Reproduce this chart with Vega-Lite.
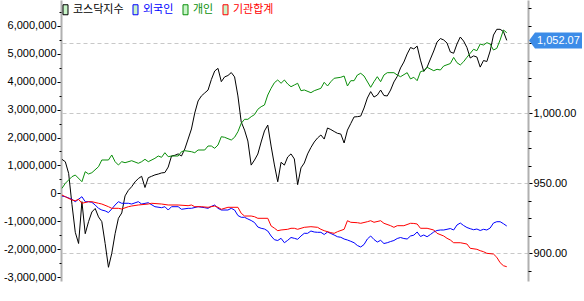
{
"$schema": "https://vega.github.io/schema/vega-lite/v6.json",
"width": 467, "height": 281,
"autosize": "none",
"padding": {"left": 61, "top": 0, "right": 56, "bottom": 20},
"background": "#ffffff",
"config": {"view": {"stroke": null}, "font": "Liberation Sans",
  "axis": {"labelFont": "Liberation Sans", "labelFontSize": 11, "labelColor": "#000000", "tickColor": "#000000", "domainColor": "#b0b0b0", "domainWidth": 2, "grid": false, "title": null}},
"datasets": {
"kosdaq": [
{"d":0,"v":967.1},{"d":1,"v":965.4},{"d":2,"v":957.1},{"d":3,"v":935},{"d":4,"v":915},{"d":5,"v":907},{"d":6,"v":936.9},{"d":7,"v":914},{"d":8,"v":922.6},{"d":9,"v":929.5},
{"d":10,"v":932},{"d":11,"v":926},{"d":12,"v":922.6},{"d":13,"v":907},{"d":14,"v":890},{"d":15,"v":900},{"d":16,"v":914},{"d":17,"v":925},{"d":18,"v":928.8},{"d":19,"v":941},
{"d":20,"v":945},{"d":21,"v":947.6},{"d":22,"v":951},{"d":23,"v":953.4},{"d":24,"v":955},{"d":25,"v":947},{"d":26,"v":954},{"d":27,"v":955},{"d":28,"v":956},{"d":29,"v":956.6},
{"d":30,"v":957.4},{"d":31,"v":957.7},{"d":32,"v":961.6},{"d":33,"v":969.5},{"d":34,"v":970},{"d":35,"v":971},{"d":36,"v":969.5},{"d":37,"v":974.5},{"d":38,"v":981.6},{"d":39,"v":988.8},
{"d":40,"v":1000.2},{"d":41,"v":1008.8},{"d":42,"v":1012.4},{"d":43,"v":1014.5},{"d":44,"v":1016.6},{"d":45,"v":1024.1},{"d":46,"v":1030.2},{"d":47,"v":1032.1},{"d":48,"v":1022.6},{"d":49,"v":1026},
{"d":50,"v":1027},{"d":51,"v":1029.1},{"d":52,"v":1026},{"d":53,"v":1012.4},{"d":54,"v":993.8},{"d":55,"v":988},{"d":56,"v":980.2},{"d":57,"v":963},{"d":58,"v":966.6},{"d":59,"v":970.9},
{"d":60,"v":979.5},{"d":61,"v":987.4},{"d":62,"v":991.6},{"d":63,"v":976.6},{"d":64,"v":963.1},{"d":65,"v":951.1},{"d":66,"v":965},{"d":67,"v":963},{"d":68,"v":968.8},{"d":69,"v":971},
{"d":70,"v":967.4},{"d":71,"v":949},{"d":72,"v":961},{"d":73,"v":964.5},{"d":74,"v":971},{"d":75,"v":975.6},{"d":76,"v":979.5},{"d":77,"v":982.4},{"d":78,"v":984.5},{"d":79,"v":981.6},
{"d":80,"v":989.5},{"d":81,"v":988.4},{"d":82,"v":987},{"d":83,"v":985.7},{"d":84,"v":985.2},{"d":85,"v":978.8},{"d":86,"v":988},{"d":87,"v":992.7},{"d":88,"v":997.4},{"d":89,"v":997.6},
{"d":90,"v":998},{"d":91,"v":1003.8},{"d":92,"v":1010.9},{"d":93,"v":1015.5},{"d":94,"v":1011.6},{"d":95,"v":1013},{"d":96,"v":1016.6},{"d":97,"v":1012.7},{"d":98,"v":1012.4},{"d":99,"v":1016.6},
{"d":100,"v":1022.4},{"d":101,"v":1026.3},{"d":102,"v":1032.4},{"d":103,"v":1036.6},{"d":104,"v":1042.4},{"d":105,"v":1047},{"d":106,"v":1046},{"d":107,"v":1048},{"d":108,"v":1038},{"d":109,"v":1029.9},
{"d":110,"v":1033},{"d":111,"v":1038.8},{"d":112,"v":1044.5},{"d":113,"v":1050.9},{"d":114,"v":1053.4},{"d":115,"v":1052.4},{"d":116,"v":1050.2},{"d":117,"v":1043.8},{"d":118,"v":1042.9},{"d":119,"v":1049.5},
{"d":120,"v":1054.5},{"d":121,"v":1051.6},{"d":122,"v":1047},{"d":123,"v":1039.5},{"d":124,"v":1041},{"d":125,"v":1040.2},{"d":126,"v":1033},{"d":127,"v":1037.7},{"d":128,"v":1037},{"d":129,"v":1044.5},
{"d":130,"v":1055.9},{"d":131,"v":1060},{"d":132,"v":1060},{"d":133,"v":1058.4},{"d":134,"v":1052.07}
],
"flows": [
{"d":0,"s":"외국인","v":-97000},{"d":1,"s":"외국인","v":-122000},{"d":3,"s":"외국인","v":-215000},{"d":4,"s":"외국인","v":-301000},{"d":6,"s":"외국인","v":-122000},{"d":7,"s":"외국인","v":-301000},{"d":8,"s":"외국인","v":-301000},{"d":9,"s":"외국인","v":-323000},{"d":10,"s":"외국인","v":-419000},{"d":11,"s":"외국인","v":-538000},
{"d":12,"s":"외국인","v":-600000},{"d":13,"s":"외국인","v":-630000},{"d":14,"s":"외국인","v":-690000},{"d":15,"s":"외국인","v":-560000},{"d":16,"s":"외국인","v":-420000},{"d":17,"s":"외국인","v":-300000},{"d":18,"s":"외국인","v":-358000},{"d":20,"s":"외국인","v":-358000},{"d":21,"s":"외국인","v":-384000},{"d":23,"s":"외국인","v":-301000},
{"d":24,"s":"외국인","v":-384000},{"d":26,"s":"외국인","v":-337000},{"d":28,"s":"외국인","v":-480000},{"d":30,"s":"외국인","v":-516000},{"d":31,"s":"외국인","v":-480000},{"d":32,"s":"외국인","v":-599000},{"d":33,"s":"외국인","v":-480000},{"d":35,"s":"외국인","v":-480000},{"d":36,"s":"외국인","v":-573000},{"d":38,"s":"외국인","v":-538000},
{"d":39,"s":"외국인","v":-538000},{"d":41,"s":"외국인","v":-480000},{"d":43,"s":"외국인","v":-516000},{"d":44,"s":"외국인","v":-538000},{"d":45,"s":"외국인","v":-470000},{"d":46,"s":"외국인","v":-420000},{"d":47,"s":"외국인","v":-538000},{"d":48,"s":"외국인","v":-599000},{"d":50,"s":"외국인","v":-599000},{"d":51,"s":"외국인","v":-538000},
{"d":52,"s":"외국인","v":-600000},{"d":53,"s":"외국인","v":-796000},{"d":54,"s":"외국인","v":-860000},{"d":55,"s":"외국인","v":-860000},{"d":56,"s":"외국인","v":-920000},{"d":57,"s":"외국인","v":-975000},{"d":58,"s":"외국인","v":-1047000},{"d":59,"s":"외국인","v":-1208000},{"d":60,"s":"외국인","v":-1254000},{"d":61,"s":"외국인","v":-1280000},
{"d":62,"s":"외국인","v":-1351000},{"d":63,"s":"외국인","v":-1530000},{"d":64,"s":"외국인","v":-1663000},{"d":65,"s":"외국인","v":-1692000},{"d":66,"s":"외국인","v":-1613000},{"d":67,"s":"외국인","v":-1771000},{"d":68,"s":"외국인","v":-1685000},{"d":69,"s":"외국인","v":-1584000},{"d":70,"s":"외국인","v":-1613000},{"d":71,"s":"외국인","v":-1649000},
{"d":72,"s":"외국인","v":-1530000},{"d":73,"s":"외국인","v":-1434000},{"d":74,"s":"외국인","v":-1434000},{"d":75,"s":"외국인","v":-1351000},{"d":76,"s":"외국인","v":-1387000},{"d":77,"s":"외국인","v":-1398000},{"d":78,"s":"외국인","v":-1398000},{"d":79,"s":"외국인","v":-1477000},{"d":80,"s":"외국인","v":-1387000},{"d":81,"s":"외국인","v":-1441000},
{"d":82,"s":"외국인","v":-1495000},{"d":83,"s":"외국인","v":-1556000},{"d":84,"s":"외국인","v":-1577000},{"d":85,"s":"외국인","v":-1638000},{"d":86,"s":"외국인","v":-1674000},{"d":87,"s":"외국인","v":-1720000},{"d":88,"s":"외국인","v":-1771000},{"d":89,"s":"외국인","v":-1871000},{"d":90,"s":"외국인","v":-1925000},{"d":91,"s":"외국인","v":-1835000},
{"d":92,"s":"외국인","v":-1638000},{"d":93,"s":"외국인","v":-1530000},{"d":94,"s":"외국인","v":-1656000},{"d":95,"s":"외국인","v":-1746000},{"d":96,"s":"외국인","v":-1685000},{"d":97,"s":"외국인","v":-1799000},{"d":98,"s":"외국인","v":-1771000},{"d":99,"s":"외국인","v":-1728000},{"d":100,"s":"외국인","v":-1692000},{"d":101,"s":"외국인","v":-1620000},
{"d":102,"s":"외국인","v":-1584000},{"d":103,"s":"외국인","v":-1620000},{"d":104,"s":"외국인","v":-1638000},{"d":105,"s":"외국인","v":-1530000},{"d":106,"s":"외국인","v":-1500000},{"d":107,"s":"외국인","v":-1387000},{"d":108,"s":"외국인","v":-1548000},{"d":109,"s":"외국인","v":-1495000},{"d":110,"s":"외국인","v":-1556000},{"d":111,"s":"외국인","v":-1477000},
{"d":112,"s":"외국인","v":-1387000},{"d":113,"s":"외국인","v":-1333000},{"d":114,"s":"외국인","v":-1315000},{"d":115,"s":"외국인","v":-1315000},{"d":116,"s":"외국인","v":-1290000},{"d":117,"s":"외국인","v":-1262000},{"d":118,"s":"외국인","v":-1315000},{"d":119,"s":"외국인","v":-1136000},{"d":120,"s":"외국인","v":-1065000},{"d":121,"s":"외국인","v":-1154000},
{"d":122,"s":"외국인","v":-1226000},{"d":123,"s":"외국인","v":-1269000},{"d":124,"s":"외국인","v":-1305000},{"d":125,"s":"외국인","v":-1280000},{"d":126,"s":"외국인","v":-1333000},{"d":127,"s":"외국인","v":-1290000},{"d":128,"s":"외국인","v":-1315000},{"d":129,"s":"외국인","v":-1244000},{"d":130,"s":"외국인","v":-1065000},{"d":131,"s":"외국인","v":-1018000},
{"d":132,"s":"외국인","v":-1018000},{"d":133,"s":"외국인","v":-1090000},{"d":134,"s":"외국인","v":-1172000},

{"d":0,"s":"개인","v":179000},{"d":1,"s":"개인","v":358000},{"d":3,"s":"개인","v":595000},{"d":4,"s":"개인","v":656000},{"d":6,"s":"개인","v":416000},{"d":7,"s":"개인","v":774000},{"d":8,"s":"개인","v":692000},{"d":9,"s":"개인","v":738000},{"d":11,"s":"개인","v":953000},{"d":12,"s":"개인","v":1194000},
{"d":14,"s":"개인","v":1194000},{"d":15,"s":"개인","v":1373000},{"d":16,"s":"개인","v":1133000},{"d":17,"s":"개인","v":1014000},{"d":18,"s":"개인","v":1133000},{"d":19,"s":"개인","v":1097000},{"d":21,"s":"개인","v":1168000},{"d":23,"s":"개인","v":1075000},{"d":24,"s":"개인","v":1133000},{"d":25,"s":"개인","v":1219000},
{"d":26,"s":"개인","v":1133000},{"d":28,"s":"개인","v":1254000},{"d":29,"s":"개인","v":1337000},{"d":30,"s":"개인","v":1290000},{"d":31,"s":"개인","v":1455000},{"d":32,"s":"개인","v":1312000},{"d":33,"s":"개인","v":1337000},{"d":35,"s":"개인","v":1337000},{"d":36,"s":"개인","v":1491000},{"d":37,"s":"개인","v":1527000},
{"d":39,"s":"개인","v":1491000},{"d":40,"s":"개인","v":1455000},{"d":41,"s":"개인","v":1552000},{"d":43,"s":"개인","v":1552000},{"d":44,"s":"개인","v":1695000},{"d":45,"s":"개인","v":1695000},{"d":46,"s":"개인","v":1613000},{"d":47,"s":"개인","v":1731000},{"d":48,"s":"개인","v":2029000},{"d":49,"s":"개인","v":2007000},
{"d":51,"s":"개인","v":1910000},{"d":52,"s":"개인","v":2007000},{"d":53,"s":"개인","v":2208000},{"d":54,"s":"개인","v":2509000},{"d":55,"s":"개인","v":2652000},{"d":56,"s":"개인","v":2652000},{"d":57,"s":"개인","v":2746000},{"d":58,"s":"개인","v":2820000},{"d":59,"s":"개인","v":3011000},{"d":60,"s":"개인","v":3104000},
{"d":61,"s":"개인","v":3165000},{"d":62,"s":"개인","v":3523000},{"d":63,"s":"개인","v":3763000},{"d":64,"s":"개인","v":3964000},{"d":65,"s":"개인","v":4061000},{"d":66,"s":"개인","v":3943000},{"d":67,"s":"개인","v":4061000},{"d":68,"s":"개인","v":3918000},{"d":69,"s":"개인","v":3821000},{"d":70,"s":"개인","v":3882000},
{"d":71,"s":"개인","v":3943000},{"d":72,"s":"개인","v":3677000},{"d":73,"s":"개인","v":3703000},{"d":75,"s":"개인","v":3606000},{"d":76,"s":"개인","v":3677000},{"d":78,"s":"개인","v":3763000},{"d":79,"s":"개인","v":3978000},{"d":80,"s":"개인","v":3846000},{"d":81,"s":"개인","v":4000000},{"d":82,"s":"개인","v":4122000},
{"d":84,"s":"개인","v":4158000},{"d":85,"s":"개인","v":4204000},{"d":86,"s":"개인","v":3846000},{"d":87,"s":"개인","v":4036000},{"d":88,"s":"개인","v":4036000},{"d":89,"s":"개인","v":4240000},{"d":90,"s":"개인","v":4301000},{"d":91,"s":"개인","v":4204000},{"d":93,"s":"개인","v":3799000},{"d":94,"s":"개인","v":4000000},
{"d":95,"s":"개인","v":4179000},{"d":96,"s":"개인","v":4000000},{"d":97,"s":"개인","v":4240000},{"d":98,"s":"개인","v":4323000},{"d":100,"s":"개인","v":4323000},{"d":101,"s":"개인","v":4240000},{"d":102,"s":"개인","v":4179000},{"d":104,"s":"개인","v":4323000},{"d":105,"s":"개인","v":4100000},{"d":106,"s":"개인","v":4158000},
{"d":107,"s":"개인","v":4036000},{"d":108,"s":"개인","v":4358000},{"d":109,"s":"개인","v":4394000},{"d":110,"s":"개인","v":4516000},{"d":112,"s":"개인","v":4394000},{"d":113,"s":"개인","v":4444000},{"d":114,"s":"개인","v":4419000},{"d":115,"s":"개인","v":4563000},{"d":117,"s":"개인","v":4650000},{"d":118,"s":"개인","v":4870000},
{"d":119,"s":"개인","v":4681000},{"d":120,"s":"개인","v":4599000},{"d":121,"s":"개인","v":4717000},{"d":122,"s":"개인","v":4875000},{"d":123,"s":"개인","v":5018000},{"d":124,"s":"개인","v":5161000},{"d":125,"s":"개인","v":5111000},{"d":126,"s":"개인","v":5351000},{"d":127,"s":"개인","v":5315000},{"d":128,"s":"개인","v":5398000},
{"d":129,"s":"개인","v":5351000},{"d":130,"s":"개인","v":5136000},{"d":131,"s":"개인","v":5197000},{"d":132,"s":"개인","v":5495000},{"d":133,"s":"개인","v":5853000},{"d":134,"s":"개인","v":5756000},

{"d":0,"s":"기관합계","v":-61000},{"d":1,"s":"기관합계","v":-122000},{"d":3,"s":"기관합계","v":-240000},{"d":4,"s":"기관합계","v":-265000},{"d":5,"s":"기관합계","v":-215000},{"d":6,"s":"기관합계","v":-358000},{"d":8,"s":"기관합계","v":-301000},{"d":9,"s":"기관합계","v":-301000},{"d":11,"s":"기관합계","v":-358000},{"d":12,"s":"기관합계","v":-384000},
{"d":14,"s":"기관합계","v":-480000},{"d":15,"s":"기관합계","v":-538000},{"d":17,"s":"기관합계","v":-538000},{"d":18,"s":"기관합계","v":-563000},{"d":20,"s":"기관합계","v":-480000},{"d":21,"s":"기관합계","v":-455000},{"d":23,"s":"기관합계","v":-419000},{"d":26,"s":"기관합계","v":-384000},{"d":27,"s":"기관합계","v":-358000},{"d":30,"s":"기관합계","v":-384000},
{"d":32,"s":"기관합계","v":-419000},{"d":35,"s":"기관합계","v":-419000},{"d":38,"s":"기관합계","v":-444000},{"d":39,"s":"기관합계","v":-419000},{"d":40,"s":"기관합계","v":-480000},{"d":42,"s":"기관합계","v":-480000},{"d":44,"s":"기관합계","v":-502000},{"d":46,"s":"기관합계","v":-455000},{"d":47,"s":"기관합계","v":-502000},{"d":48,"s":"기관합계","v":-573000},
{"d":50,"s":"기관합계","v":-502000},{"d":53,"s":"기관합계","v":-502000},{"d":54,"s":"기관합계","v":-717000},{"d":55,"s":"기관합계","v":-814000},{"d":57,"s":"기관합계","v":-814000},{"d":58,"s":"기관합계","v":-839000},{"d":59,"s":"기관합계","v":-896000},{"d":62,"s":"기관합계","v":-896000},{"d":63,"s":"기관합계","v":-1170000},{"d":64,"s":"기관합계","v":-1250000},
{"d":65,"s":"기관합계","v":-1340000},{"d":66,"s":"기관합계","v":-1315000},{"d":68,"s":"기관합계","v":-1290000},{"d":69,"s":"기관합계","v":-1254000},{"d":70,"s":"기관합계","v":-1254000},{"d":71,"s":"기관합계","v":-1290000},{"d":73,"s":"기관합계","v":-1219000},{"d":75,"s":"기관합계","v":-1197000},{"d":77,"s":"기관합계","v":-1219000},{"d":78,"s":"기관합계","v":-1290000},
{"d":79,"s":"기관합계","v":-1340000},{"d":81,"s":"기관합계","v":-1412000},{"d":82,"s":"기관합계","v":-1434000},{"d":83,"s":"기관합계","v":-1376000},{"d":85,"s":"기관합계","v":-1290000},{"d":86,"s":"기관합계","v":-982000},{"d":87,"s":"기관합계","v":-1039000},{"d":89,"s":"기관합계","v":-1054000},{"d":90,"s":"기관합계","v":-1075000},{"d":92,"s":"기관합계","v":-1018000},
{"d":93,"s":"기관합계","v":-982000},{"d":94,"s":"기관합계","v":-1039000},{"d":96,"s":"기관합계","v":-982000},{"d":97,"s":"기관합계","v":-1075000},{"d":99,"s":"기관합계","v":-1161000},{"d":100,"s":"기관합계","v":-1219000},{"d":101,"s":"기관합계","v":-1161000},{"d":103,"s":"기관합계","v":-1161000},{"d":105,"s":"기관합계","v":-1075000},{"d":106,"s":"기관합계","v":-1080000},
{"d":107,"s":"기관합계","v":-1100000},{"d":108,"s":"기관합계","v":-1254000},{"d":110,"s":"기관합계","v":-1254000},{"d":112,"s":"기관합계","v":-1315000},{"d":113,"s":"기관합계","v":-1434000},{"d":115,"s":"기관합계","v":-1530000},{"d":116,"s":"기관합계","v":-1613000},{"d":117,"s":"기관합계","v":-1674000},{"d":118,"s":"기관합계","v":-1771000},{"d":120,"s":"기관합계","v":-1771000},
{"d":122,"s":"기관합계","v":-1817000},{"d":123,"s":"기관합계","v":-1971000},{"d":125,"s":"기관합계","v":-2007000},{"d":126,"s":"기관합계","v":-2057000},{"d":127,"s":"기관합계","v":-2093000},{"d":128,"s":"기관합계","v":-2151000},{"d":130,"s":"기관합계","v":-2176000},{"d":131,"s":"기관합계","v":-2294000},{"d":132,"s":"기관합계","v":-2487000},{"d":133,"s":"기관합계","v":-2595000},
{"d":134,"s":"기관합계","v":-2631000}
],
"last": [{"v": 1052.07, "t": "1,052.07"}]
},
"layer": [
{
 "data": {"name": "kosdaq"},
 "transform": [{"calculate": "'코스닥지수'", "as": "s"}],
 "mark": {"type": "line", "strokeWidth": 1},
 "encoding": {
  "x": {"field": "d", "type": "quantitative", "scale": {"domain": [-0.3, 140.4], "nice": false, "zero": false},
   "axis": {"values": [-0.3, 5, 27, 49, 68, 90, 112, 140.4],
    "labelExpr": "datum.value < 0 ? '21/02/18' : datum.value > 140 ? '21/08/10' : datum.value == 5 ? '03' : datum.value == 27 ? '04' : datum.value == 49 ? '05' : datum.value == 68 ? '06' : datum.value == 90 ? '07' : '08'",
    "domainColor": "#000000", "domainWidth": 1, "tickSize": 9, "tickColor": "#000000",
    "labelBaseline": "top", "labelPadding": -5,
    "labelAlign": {"condition": {"test": "datum.value < 0", "value": "right"}, "value": "left"},
    "labelOffset": {"condition": [{"test": "datum.value < 0", "value": -12}, {"test": "datum.value > 140", "value": 9}], "value": 1},
    "tickOpacity": {"condition": {"test": "datum.value < 0 || datum.value > 140", "value": 0}, "value": 1},
    "labelOverlap": false, "labelBound": false, "labelFlush": false, "grid": false}},
  "y": {"field": "v", "type": "quantitative", "scale": {"domain": [880.21, 1080.93], "nice": false, "zero": false},
   "axis": {"orient": "right", "values": [900, 950, 1000, 1050], "labelExpr": "datum.value == 1050 ? '' : format(datum.value, ',.2f')", "grid": true, "gridDash": [4, 3], "gridColor": "#c8c8c8", "gridWidth": 1, "tickSize": 4, "labelPadding": 1}},
  "color": {"field": "s", "type": "nominal",
   "scale": {"domain": ["코스닥지수", "외국인", "개인", "기관합계"], "range": ["#000000", "#0000ff", "#0a8f0a", "#ff0000"]},
   "legend": {"orient": "none", "legendX": -1, "legendY": 4, "direction": "horizontal", "title": null,
    "symbolType": "M-0.5,-1H0.5V1H-0.5Z", "symbolSize": 100, "symbolFillColor": "#c8f5c8", "symbolStrokeColor": "#1e3c1e", "symbolStrokeWidth": 1,
    "labelFont": "Noto Sans CJK KR", "labelFontSize": 11, "labelOffset": 2, "columnPadding": 6, "padding": 0,
    "labelColor": {"expr": "datum.label == '외국인' ? '#0000ff' : datum.label == '개인' ? '#0a8f0a' : datum.label == '기관합계' ? '#ff0000' : '#000000'"}}}
 }
},
{
 "data": {"name": "kosdaq"},
 "mark": {"type": "line", "opacity": 0},
 "encoding": {
  "x": {"field": "d", "type": "quantitative", "axis": null},
  "y": {"field": "v", "type": "quantitative", "scale": {"domain": [880.21, 1080.93], "nice": false, "zero": false},
   "axis": {"orient": "right", "values": [887.5, 912.5, 925, 937.5, 962.5, 975, 987.5, 1012.5, 1025, 1037.5, 1062.5, 1075], "labels": false, "domain": false, "tickSize": 3, "grid": false}}
 }
},
{
 "data": {"name": "flows"},
 "mark": {"type": "line", "strokeWidth": 1},
 "encoding": {
  "x": {"field": "d", "type": "quantitative", "axis": null},
  "y": {"field": "v", "type": "quantitative", "scale": {"domain": [-3143000, 6928000], "nice": false, "zero": false},
   "axis": {"orient": "left", "values": [-3000000, -2000000, -1000000, 0, 1000000, 2000000, 3000000, 4000000, 5000000, 6000000],
    "labelExpr": "replace(format(datum.value, ','), '\u2212', '-')", "tickSize": 4, "labelPadding": 1}},
  "color": {"field": "s", "type": "nominal", "legend": null},
  "order": {"field": "d"}
 }
},
{
 "data": {"name": "flows"},
 "mark": {"type": "line", "opacity": 0},
 "encoding": {
  "x": {"field": "d", "type": "quantitative", "axis": null},
  "detail": {"field": "s"},
  "y": {"field": "v", "type": "quantitative", "scale": {"domain": [-3143000, 6928000], "nice": false, "zero": false},
   "axis": {"orient": "left", "values": [-2500000, -1500000, -500000, 500000, 1500000, 2500000, 3500000, 4500000, 5500000, 6500000], "labels": false, "domain": false, "tickSize": 2}}
 }
},
{
 "data": {"name": "last"},
 "mark": {"type": "point", "shape": "M1,0L7,-8L54,-8L54,8L7,8Z", "size": 4, "filled": true, "color": "#3c8ce8", "opacity": 1, "strokeWidth": 0},
 "encoding": {
  "x": {"datum": 140.4, "type": "quantitative"},
  "y": {"field": "v", "type": "quantitative", "scale": {"domain": [880.21, 1080.93], "nice": false, "zero": false}, "axis": null}
 }
},
{
 "data": {"name": "last"},
 "mark": {"type": "text", "align": "left", "baseline": "middle", "dx": 9, "dy": 1, "color": "#ffffff", "font": "Liberation Sans", "fontSize": 11},
 "encoding": {
  "x": {"datum": 140.4, "type": "quantitative"},
  "y": {"field": "v", "type": "quantitative", "scale": {"domain": [880.21, 1080.93], "nice": false, "zero": false}, "axis": null},
  "text": {"field": "t"}
 }
}
],
"resolve": {"scale": {"y": "independent"}, "axis": {"y": "independent"}}
}
